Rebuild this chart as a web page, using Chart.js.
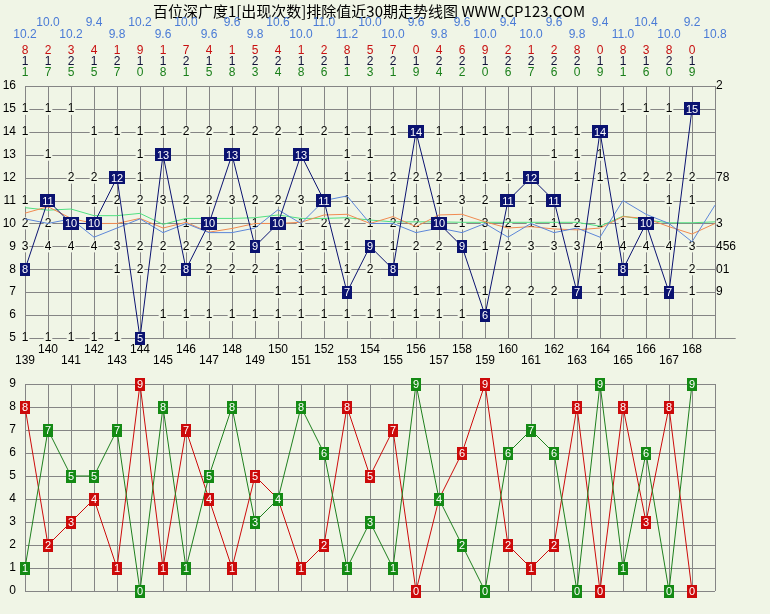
<!DOCTYPE html>
<html>
<head>
<meta charset="utf-8">
<script src="https://cdn.jsdelivr.net/npm/chart.js@4.4.1/dist/chart.umd.min.js"></script>
<style>
  body { margin: 0; background: #F0F5E6; }
  #wrap { position: relative; width: 770px; height: 614px; }
  canvas { position: absolute; left: 0; }
</style>
</head>
<body>
<div id="wrap">
  <canvas id="topChart" width="770" height="372" style="top:0"></canvas>
  <canvas id="botChart" width="770" height="242" style="top:372px"></canvas>
</div>
<script>
// 期号
const periods = [139,140,141,142,143,144,145,146,147,148,149,150,151,152,153,154,155,156,157,158,159,160,161,162,163,164,165,166,167,168]
const nextPeriod = 169
// 深广度值 (蓝色方块)
const depth = [8,11,10,10,12,5,13,8,10,13,9,10,13,11,7,9,8,14,10,9,6,11,12,11,7,14,8,10,7,15]
// 顶部三行数字
const redDigit = [8,2,3,4,1,9,1,7,4,1,5,4,1,2,8,5,7,0,4,6,9,2,1,2,8,0,8,3,8,0]
const midDigit = [1,1,2,1,2,1,1,2,1,1,2,2,1,2,1,2,2,1,2,2,1,2,2,2,2,1,1,1,2,1]
const greenDigit = [1,7,5,5,7,0,8,1,5,8,3,4,8,6,1,3,1,9,4,2,0,6,7,6,0,9,1,6,0,9]
// 均值线 (含169预测列)
const avgBlue = [10.2,10.0,10.2,9.4,9.8,10.2,9.6,10.0,9.6,9.6,9.8,10.6,10.0,11.0,11.2,10.0,10.0,9.6,9.8,9.6,10.0,9.4,10.0,9.6,9.8,9.4,11.0,10.4,10.0,9.2,10.8]
const avgOrange = [10.45,10.73,10.22,10.0,10.0,10.22,9.8,10.05,9.62,9.78,10.0,10.0,10.05,10.37,10.4,10.0,10.3,9.86,10.37,10.4,10.07,9.8,9.86,9.76,9.72,9.8,10.3,10.22,9.86,9.54,10.0]
const avgGreen = [10.69,10.58,10.63,10.34,10.34,10.44,9.96,10.22,10.22,10.22,10.25,10.37,10.22,10.22,10.25,10.15,10.07,10.07,10.07,10.05,10.05,10.05,10.05,10.05,10.05,9.88,10.32,10.15,10.03,10.03,10.07]
// 坐标刻度
const topTicks = [5,6,7,8,9,10,11,12,13,14,15,16]
const botTicks = [0,1,2,3,4,5,6,7,8,9]
// 每行出现次数 ('.' = 空), 139..169
const row16 = '. . . . . . . . . .  . . . . . . . . . .  . . . . . . . . . .  2'.split(/\s+/)
const row15 = '1 1 1 . . . . . . .  . . . . . . . . . .  . . . . . . 1 1 1 .  .'.split(/\s+/)
const row14 = '1 . . 1 1 1 1 2 2 1  2 2 1 2 1 1 1 . 1 1  1 1 1 1 1 . . . . .  .'.split(/\s+/)
const row13 = '. 1 . . . 1 . . . .  . . . . 1 1 . . . .  . . . 1 1 1 . . . .  .'.split(/\s+/)
const row12 = '. . 2 2 . 1 . . . .  . . . . 1 1 2 2 2 1  1 1 . . 1 1 2 2 2 2  78'.split(/\s+/)
const row11 = '1 . . 1 2 2 3 2 2 3  2 2 3 . 1 1 1 1 1 3  2 . 1 . . . . . 1 1  .'.split(/\s+/)
const row10 = '2 2 . . . . . 1 . .  1 . 1 2 2 1 2 2 . 1  3 2 1 1 2 1 1 . . .  3'.split(/\s+/)
const row9  = '3 4 4 4 3 2 2 2 2 2  . 1 1 1 1 . 1 2 2 .  1 2 3 3 3 4 4 4 4 3  456'.split(/\s+/)
const row8  = '. . . . 1 2 2 . 2 2  2 1 1 1 1 2 . . . .  . . . . . 1 . 1 . 2  01'.split(/\s+/)
const row7  = '. . . . . . . . . .  . 1 1 1 . . . 1 1 1  1 2 2 2 . 1 1 1 . 1  9'.split(/\s+/)
const row6  = '. . . . . . 1 1 1 1  1 1 1 1 1 1 1 1 1 1  . . . . . . . . . .  .'.split(/\s+/)
const row5  = '1 1 1 1 1 . . . . .  . . . . . . . . . .  . . . . . . . . . .  .'.split(/\s+/)

const cellRows = [[16,row16],[15,row15],[14,row14],[13,row13],[12,row12],[11,row11],[10,row10],[9,row9],[8,row8],[7,row7],[6,row6],[5,row5]]
const allCols = periods.concat([nextPeriod])

const bg = '#F0F5E6'
const gridColor = '#858585'
const numFont = '12px "Liberation Sans", Arial, sans-serif'
const boxFont = '11px "Liberation Sans", Arial, sans-serif'

function drawBox(ctx, px, py, txt, fill) {
    ctx.font = boxFont
    const w = ctx.measureText(txt).width + 4
    const h = 13
    ctx.fillStyle = fill
    ctx.fillRect(Math.round(px - w / 2), Math.round(py - h / 2), Math.round(w), h)
    ctx.fillStyle = '#FFFFFF'
    ctx.textAlign = 'center'
    ctx.textBaseline = 'middle'
    ctx.fillText(txt, px, py + 1)
}

const topDeco = {
    id: 'topDeco',
    beforeDatasetsDraw(chart) {
        const { ctx, scales: { x, y } } = chart
        ctx.save()
        // 标题
        ctx.fillStyle = '#000'
        ctx.font = '15px "Noto Sans CJK SC", sans-serif'
        ctx.textAlign = 'center'
        ctx.textBaseline = 'middle'
        ctx.fillText('百位深广度1[出现次数]排除值近30期走势线图 WWW.CP123.COM', 369, 11)

        // 均值数字
        ctx.font = numFont
        avgBlue.forEach((v, i) => {
            ctx.fillStyle = '#4A7BD6'
            ctx.fillText(v.toFixed(1), x.getPixelForValue(allCols[i]), i % 2 === 0 ? 35 : 23)
        })
        periods.forEach((p, i) => {
            const px = x.getPixelForValue(p)
            ctx.fillStyle = '#C81010'
            ctx.fillText(redDigit[i], px, 51)
            ctx.fillStyle = '#10103A'
            ctx.fillText(midDigit[i], px, 62)
            ctx.fillStyle = '#1A7F1A'
            ctx.fillText(greenDigit[i], px, 73)
        })

        // 网格
        ctx.strokeStyle = gridColor
        ctx.lineWidth = 1
        topTicks.forEach(v => {
            const py = Math.round(y.getPixelForValue(v)) + 0.5
            ctx.beginPath()
            ctx.moveTo(x.getPixelForValue(periods[0]), py)
            ctx.lineTo(x.getPixelForValue(v === 5 ? nextPeriod + 0.9 : nextPeriod), py)
            ctx.stroke()
        })
        allCols.forEach(p => {
            const px = Math.round(x.getPixelForValue(p)) + 0.5
            ctx.beginPath()
            ctx.moveTo(px, y.getPixelForValue(16))
            ctx.lineTo(px, y.getPixelForValue(5))
            ctx.stroke()
        })

        // Y轴标签
        ctx.fillStyle = '#000'
        ctx.textAlign = 'right'
        topTicks.forEach(v => ctx.fillText(v, 16, y.getPixelForValue(v)))

        // X轴期号 (交错)
        ctx.textAlign = 'center'
        periods.forEach((p, i) => {
            ctx.fillText(p, x.getPixelForValue(p), i % 2 === 0 ? 361 : 350)
        })

        // 单元格次数
        cellRows.forEach(([v, row]) => {
            row.forEach((t, i) => {
                if (t === '.') return
                const px = x.getPixelForValue(allCols[i])
                const py = y.getPixelForValue(v)
                const w = ctx.measureText(t).width
                if (allCols[i] === nextPeriod) {
                    ctx.fillStyle = bg
                    ctx.fillRect(px + 1, py - 6, w + 2, 12)
                    ctx.fillStyle = '#000'
                    ctx.textAlign = 'left'
                    ctx.fillText(t, px + 1, py)
                } else {
                    ctx.fillStyle = bg
                    ctx.fillRect(px - w / 2 - 1, py - 6, w + 2, 12)
                    ctx.fillStyle = '#000'
                    ctx.textAlign = 'center'
                    ctx.fillText(t, px, py)
                }
            })
        })
        ctx.restore()
    },
    afterDatasetsDraw(chart) {
        const { ctx } = chart
        ctx.save()
        chart.getDatasetMeta(0).data.forEach((pt, i) => {
            drawBox(ctx, pt.x, pt.y, String(depth[i]), '#0A1270')
        })
        ctx.restore()
    }
}

const botDeco = {
    id: 'botDeco',
    beforeDatasetsDraw(chart) {
        const { ctx, scales: { x, y } } = chart
        ctx.save()
        ctx.strokeStyle = gridColor
        ctx.lineWidth = 1
        botTicks.forEach(v => {
            const py = Math.round(y.getPixelForValue(v)) + 0.5
            ctx.beginPath()
            ctx.moveTo(x.getPixelForValue(periods[0]), py)
            ctx.lineTo(x.getPixelForValue(nextPeriod), py)
            ctx.stroke()
        })
        allCols.forEach(p => {
            const px = Math.round(x.getPixelForValue(p)) + 0.5
            ctx.beginPath()
            ctx.moveTo(px, y.getPixelForValue(9))
            ctx.lineTo(px, y.getPixelForValue(0))
            ctx.stroke()
        })
        ctx.fillStyle = '#000'
        ctx.font = numFont
        ctx.textAlign = 'right'
        ctx.textBaseline = 'middle'
        botTicks.forEach(v => ctx.fillText(v, 16, y.getPixelForValue(v)))
        ctx.restore()
    },
    afterDatasetsDraw(chart) {
        const { ctx } = chart
        ctx.save()
        chart.getDatasetMeta(1).data.forEach((pt, i) => drawBox(ctx, pt.x, pt.y, String(redDigit[i]), '#CC0A0A'))
        chart.getDatasetMeta(0).data.forEach((pt, i) => drawBox(ctx, pt.x, pt.y, String(greenDigit[i]), '#148A14'))
        ctx.restore()
    }
}

const xy = (xs, ys) => ys.map((v, i) => ({ x: xs[i], y: v }))

const thinLine = (data, color) => ({
    data: xy(allCols, data),
    borderColor: color,
    borderWidth: 1,
    pointRadius: 0,
    tension: 0,
    clip: false
})

new Chart(document.getElementById('topChart').getContext('2d'), {
    type: 'line',
    data: {
        datasets: [
            { data: xy(periods, depth), borderColor: '#0A1270', borderWidth: 1, pointRadius: 0, tension: 0, clip: false },
            thinLine(avgBlue, '#5C86D8'),
            thinLine(avgOrange, '#F08A50'),
            thinLine(avgGreen, '#50E080')
        ]
    },
    options: {
        responsive: false,
        animation: false,
        layout: { padding: { left: 25, right: 55, top: 86, bottom: 34 } },
        scales: {
            x: { type: 'linear', min: 139, max: 169, display: false },
            y: { type: 'linear', min: 5, max: 16, display: false }
        },
        plugins: { legend: { display: false }, tooltip: { enabled: false } }
    },
    plugins: [topDeco]
})

new Chart(document.getElementById('botChart').getContext('2d'), {
    type: 'line',
    data: {
        datasets: [
            { data: xy(periods, greenDigit), borderColor: '#1E7F1E', borderWidth: 1, pointRadius: 0, tension: 0, clip: false },
            { data: xy(periods, redDigit), borderColor: '#CC0A0A', borderWidth: 1, pointRadius: 0, tension: 0, clip: false }
        ]
    },
    options: {
        responsive: false,
        animation: false,
        layout: { padding: { left: 25, right: 55, top: 12, bottom: 23 } },
        scales: {
            x: { type: 'linear', min: 139, max: 169, display: false },
            y: { type: 'linear', min: 0, max: 9, display: false }
        },
        plugins: { legend: { display: false }, tooltip: { enabled: false } }
    },
    plugins: [botDeco]
})
</script>
</body>
</html>
